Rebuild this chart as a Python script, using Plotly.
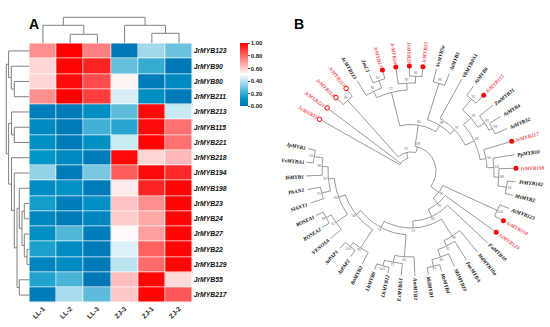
import math
import plotly.graph_objects as go

# ---------- Panel A data ----------
SAMPLES = ["LL-1", "LL-2", "LL-3", "ZJ-3", "ZJ-1", "ZJ-2"]
GENES = ["JrMYB123", "JrMYB90", "JrMYB80", "JrMYB211", "JrMYB213", "JrMYB115", "JrMYB221",
         "JrMYB218", "JrMYB194", "JrMYB198", "JrMYB23", "JrMYB24", "JrMYB27", "JrMYB22",
         "JrMYB129", "JrMYB55", "JrMYB217"]
EXPRESSION = [
    [.72, 1.0, .75, .02, .36, .28],
    [.58, .99, .93, .27, .20, .02],
    [.58, .98, .85, .52, .03, .08],
    [.72, 1.0, .88, .44, .10, .03],
    [.04, .03, .10, .26, .98, .42],
    [.08, .03, .22, .18, .98, .78],
    [.10, .03, .10, .42, .99, .78],
    [.12, .08, .03, .98, .58, .64],
    [.34, .03, .30, .82, .98, .92],
    [.09, .11, .03, .54, .93, .99],
    [.15, .04, .10, .62, .72, .99],
    [.07, .03, .07, .60, .67, .99],
    [.10, .24, .04, .51, .69, .99],
    [.16, .09, .03, .45, .81, .99],
    [.06, .09, .03, .40, .79, .99],
    [.17, .23, .02, .63, .99, .57],
    [.03, .37, .26, .61, .99, .83],
]
COLOR_TICKS = [0, .2, .4, .6, .8, 1]
# (merge height, left, right); ints are column / row indices
COLUMN_TREE = (26, (18, 0, (9, 1, 2)), (18, 3, (10, 4, 5)))
ROW_TREE = (23,
            (20.7, 0, (18, 1, (15, 2, 3))),
            (20.7,
             (17.8, 4, (15, 5, 6)),
             (17.8, 7, (15, 8, (12.3, (10, 9, (7.3, (5, 10, 11), (5, 12, (2.3, 13, 14)))),
                                (10, 15, 16))))))


# ---------- Panel B data ----------
def N(r, *kids, s=None, anchor=None):
    return dict(r=r, kids=kids, s=s, anchor=anchor)


CLADE_TOP = N(81,
              N(88, "AcMYB123", N(96, "ZmC1", "JrMYB27", s="62"), s="95"),
              N(88, "JrMYB24", N(95, "JrMYB22", "JrMYB23", s="80"), s="87"), s="72")
CLADE_TR = N(54,
             N(92, "VvMYB5a", "AtMYB5", s="98"),
             N(60, "VbMYBPA1",
               N(70,
                 N(80, N(94, "AtMYB6", "JrMYB115", s="91"),
                   N(88, "ZmMYB31", N(92, "AtMYB4", "AtMYB32", s="99"), s="85"), s="78"),
                 N(76, "JrMYB217",
                   N(83, "PpMYB10",
                     N(88, "JrMYB198", N(97, "PtMYB182", "MtMYB2", s="93"), s="88"), s="64"),
                   s="90"), s="86"), s="97"), s="98")
CLADE_BR = N(35,
             N(95, "AtMYB123", "JrMYB194", s="100"),
             N(42, "JrMYB129",
               N(50, "FaMYB10",
                 N(57,
                   N(77, "MdMYB10a",
                     N(83, "PacMYBA",
                       N(91, "MdMYB10", N(98, "MrMYB4", "MdMYB1", s="97"), s="83"), s="92"), s="98"),
                   N(64,
                     N(86, "AmMYB3", N(93, "EsMYBA1", N(99, "LhMYB12", "LhMYB6", s="100"), s="71"), s="66"),
                     N(70,
                       N(92, "BoMYB2", N(97, "AtPAP2", "AtPAP1", s="100"), s="95"),
                       N(77,
                         N(91, "VENOSA", N(97, "ROSEA2", "ROSEA1", s="99"), s="67"),
                         N(83,
                           N(92, "SlANT1", "PhAN2", s="75"),
                           N(89, "IbMYB1", N(98, "VvMYBA1", "IpMYB1", s="53"), s="98"), s="87"),
                         s="94"),
                       s="58"),
                     s="76"), s="70"), s="84"), s="95"), s="99")
TREE = N(13, "JrMYB55", "JrMYB221",
         N(19, N(95, "JrMYB218", "JrMYB213", s="96"),
           N(25, N(46.5, CLADE_TOP, CLADE_TR, s="84"), CLADE_BR, s="88", anchor=375), s="74"))
FILLED_RED = ["JrMYB27", "JrMYB24", "JrMYB22", "JrMYB23", "JrMYB115", "JrMYB217", "JrMYB198",
              "JrMYB194", "JrMYB129"]
OPEN_RED = ["JrMYB55", "JrMYB221", "JrMYB218", "JrMYB213"]

# ---------- Layout constants ----------
W, H = 550, 327
HM_L, HM_R, HM_T, HM_B = 29.3, 192.7, 43.3, 302.7
TREE_CX, TREE_CY = 411, 171
LEAF_R = 105
LEAF_START = 299.5
LEAF_STEP = 7.45
LINE_GRAY = "#808080"
RED = "#ff0000"
LABEL_RED = "#f0505a"
COLORSCALE = [[0, "#0072b5"], [.12, "#0095c6"], [.5, "#ffffff"], [1, "#ff0000"]]


def walk_dendro(node, xs, ys):
    """returns (leaf position, merge height) and appends elbow segments"""
    if isinstance(node, int):
        return node, 0
    h, a, b = node
    pa, ha = walk_dendro(a, xs, ys)
    pb, hb = walk_dendro(b, xs, ys)
    xs += [pa, pa, pb, pb, None]
    ys += [ha, h, h, hb, None]
    return (pa + pb) / 2, h


fig = go.Figure()

# Heatmap
fig.add_trace(go.Heatmap(
    z=EXPRESSION, x=list(range(len(SAMPLES))), y=list(range(len(GENES))),
    zmin=0, zmax=1, colorscale=COLORSCALE, xgap=0.7, ygap=0.7, xaxis="x", yaxis="y",
    colorbar=dict(x=240 / W, xanchor="left", xpad=0, y=1 - HM_T / H, yanchor="top", ypad=0,
                  thickness=8, thicknessmode="pixels", len=63, lenmode="pixels",
                  tickvals=COLOR_TICKS, ticktext=[f"{v:.2f}" for v in COLOR_TICKS],
                  tickfont=dict(family="Liberation Sans", size=6, color="#222222", weight="bold"),
                  ticks="outside", ticklen=2, tickwidth=0.6, tickcolor="#555555",
                  outlinewidth=0),
))

# Dendrograms
cx, cy = [], []
walk_dendro(COLUMN_TREE, cx, cy)
fig.add_trace(go.Scatter(x=cx, y=cy, xaxis="x2", yaxis="y2", mode="lines",
                         line=dict(color=LINE_GRAY, width=1), hoverinfo="skip", showlegend=False))
rp, rh = [], []
walk_dendro(ROW_TREE, rp, rh)
fig.add_trace(go.Scatter(x=rh, y=rp, xaxis="x3", yaxis="y3", mode="lines",
                         line=dict(color=LINE_GRAY, width=1), hoverinfo="skip", showlegend=False))

# Circular tree
counter = [0]
lx, ly = [], []
leaf_pos = {}
sup_x, sup_y, sup_t = [], [], []


def xy(r, deg):
    t = math.radians(deg)
    return r * math.sin(t), r * math.cos(t)


def layout_angle(node):
    if isinstance(node, str):
        a = LEAF_START + LEAF_STEP * counter[0]
        counter[0] += 1
        leaf_pos[node] = a
        return a
    angles = [layout_angle(k) for k in node["kids"]]
    node["span"] = (min(angles), max(angles))
    node["a"] = node["anchor"] if node["anchor"] is not None else (angles[0] + angles[-1]) / 2
    node["child_angles"] = angles
    return node["a"]


def draw(node):
    r = node["r"]
    a0, a1 = node["span"]
    steps = max(2, int(abs(a1 - a0) / 2) + 1)
    for i in range(steps + 1):
        px, py = xy(r, a0 + (a1 - a0) * i / steps)
        lx.append(px)
        ly.append(py)
    lx.append(None)
    ly.append(None)
    for kid, ang in zip(node["kids"], node["child_angles"]):
        r2 = LEAF_R if isinstance(kid, str) else kid["r"]
        p1, p2 = xy(r, ang), xy(r2, ang)
        lx.extend([p1[0], p2[0], None])
        ly.extend([p1[1], p2[1], None])
        if not isinstance(kid, str):
            draw(kid)
    if node["s"]:
        px, py = xy(r + 3, node["a"])
        sup_x.append(px)
        sup_y.append(py)
        sup_t.append(node["s"])


layout_angle(TREE)
draw(TREE)

fig.add_trace(go.Scatter(x=lx, y=ly, xaxis="x4", yaxis="y4", mode="lines",
                         line=dict(color=LINE_GRAY, width=0.8), hoverinfo="skip", showlegend=False))
fig.add_trace(go.Scatter(x=sup_x, y=sup_y, xaxis="x4", yaxis="y4", mode="text", text=sup_t,
                         textfont=dict(family="Liberation Sans", size=3.5, color="#777777"),
                         hoverinfo="skip", showlegend=False))
fx, fy = zip(*[xy(LEAF_R, leaf_pos[n]) for n in FILLED_RED])
fig.add_trace(go.Scatter(x=fx, y=fy, xaxis="x4", yaxis="y4", mode="markers",
                         marker=dict(color=RED, size=5), hoverinfo="skip", showlegend=False))
ox, oy = zip(*[xy(LEAF_R, leaf_pos[n]) for n in OPEN_RED])
fig.add_trace(go.Scatter(x=ox, y=oy, xaxis="x4", yaxis="y4", mode="markers",
                         marker=dict(color="white", size=4.5, line=dict(color=RED, width=1)),
                         hoverinfo="skip", showlegend=False))

annotations = []
for name, ang in leaf_pos.items():
    deg = ang % 360
    right = deg <= 180
    w_txt = len(name) * 5.3 * 0.56
    ax, ay = xy(LEAF_R + 3.5 + w_txt / 2, ang)
    annotations.append(dict(
        x=ax, y=ay, xref="x4", yref="y4", showarrow=False, xanchor="center", yanchor="middle",
        textangle=(deg - 90) if right else (deg + 90 - 360),
        text=f"<b><i>{name}</i></b>", borderpad=0,
        font=dict(family="Liberation Serif", size=5.3,
                  color=LABEL_RED if name.startswith("Jr") else "#111111"),
    ))
annotations.append(dict(x=26.5 / W, y=1 - 14 / H, xref="paper", yref="paper", text="<b>A</b>",
                        showarrow=False, font=dict(family="Liberation Sans", size=14, color="black")))
annotations.append(dict(x=299 / W, y=1 - 14 / H, xref="paper", yref="paper", text="<b>B</b>",
                        showarrow=False, font=dict(family="Liberation Sans", size=14, color="black")))

hidden = dict(visible=False, showgrid=False, zeroline=False)
hx = [HM_L / W, HM_R / W]
hy = [1 - HM_B / H, 1 - HM_T / H]
fig.update_layout(
    width=W, height=H, autosize=False, margin=dict(l=0, r=0, t=0, b=0),
    paper_bgcolor="white", plot_bgcolor="rgba(0,0,0,0)", showlegend=False,
    annotations=annotations,
    xaxis=dict(domain=hx, range=[-.5, 5.5], tickvals=list(range(6)), ticktext=SAMPLES,
               tickangle=-45, ticklen=0, showgrid=False, zeroline=False, showline=False,
               tickfont=dict(family="Liberation Sans", size=6.6, color="#222222", weight="bold"),
               anchor="y"),
    yaxis=dict(domain=hy, range=[16.5, -.5], tickvals=list(range(17)),
               ticktext=[f"<b><i>{g}</i></b>" for g in GENES], side="right", ticklen=0,
               showgrid=False, zeroline=False, showline=False, anchor="x",
               tickfont=dict(family="Liberation Sans", size=6.8, color="#111111")),
    xaxis2=dict(domain=hx, range=[-.5, 5.5], anchor="y2", **hidden),
    yaxis2=dict(domain=[1 - HM_T / H, 1], range=[0, HM_T], anchor="x2", **hidden),
    xaxis3=dict(domain=[0, HM_L / W], range=[HM_L, 0], anchor="y3", **hidden),
    yaxis3=dict(domain=hy, range=[16.5, -.5], anchor="x3", **hidden),
    xaxis4=dict(domain=[0, 1], range=[-TREE_CX, W - TREE_CX], anchor="y4", **hidden),
    yaxis4=dict(domain=[0, 1], range=[TREE_CY - H, TREE_CY], anchor="x4", **hidden),
)
fig.write_html("out.html", config={"displayModeBar": False},
               post_script="document.body.style.margin='0';document.body.style.overflow='hidden';")
